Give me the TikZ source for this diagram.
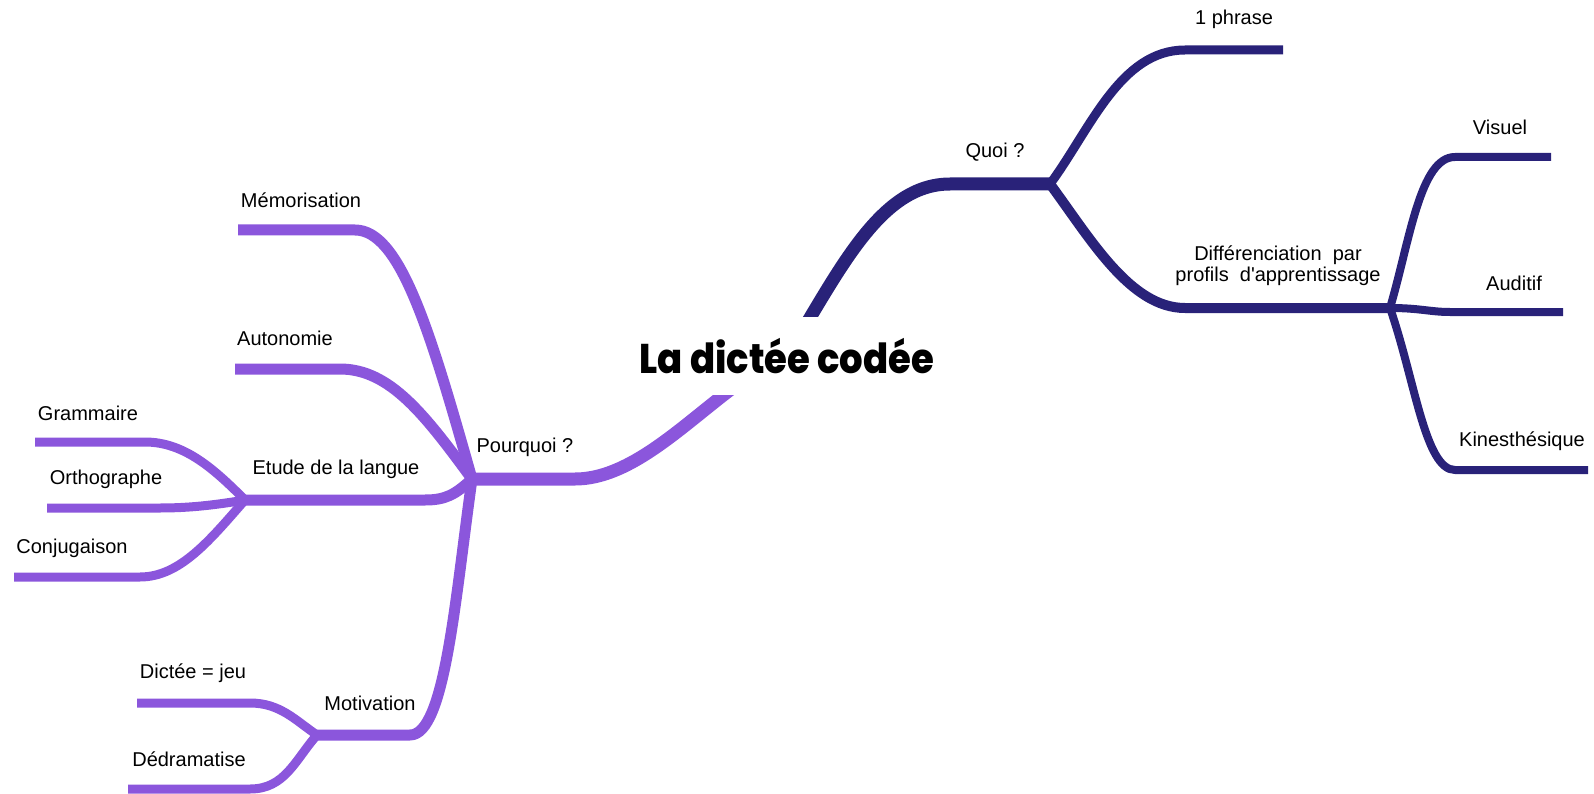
\documentclass[tikz,border=0pt]{standalone}
\usepackage{fontspec}
\setmainfont{Liberation Sans}[Ligatures=TeXOff]
\newfontfamily\titelfont{Poppins}[BoldFont={* ExtraBold}]
\definecolor{violett}{RGB}{139,86,220}
\definecolor{marine}{RGB}{41,34,121}

\begin{document}
\begin{tikzpicture}[x=1pt,y=-1pt,
		ast/.style={line width=#1,line cap=butt,line join=round},
		lbl/.style={inner sep=0pt,font=\fontsize{20}{23}\selectfont}]
	\useasboundingbox (0,0) rectangle (1594,794);
	% Verzweigungen
	\coordinate (W) at (787,356);
	\coordinate (P) at (472,479);
	\coordinate (E) at (245,500);
	\coordinate (M) at (317,735);
	\coordinate (Q) at (1050,184);
	\coordinate (D) at (1390,308);
	% Enden
	\coordinate (memoE) at (238,230);
	\coordinate (autoE) at (235,369);
	\coordinate (gramE) at (35,442);
	\coordinate (orthE) at (47,508);
	\coordinate (conjE) at (14,577);
	\coordinate (jeuE) at (137,703);
	\coordinate (dedrE) at (128,789);
	\coordinate (phrE) at (1283,50);
	\coordinate (visE) at (1551,157);
	\coordinate (audE) at (1563,312);
	\coordinate (kinE) at (1588,470);
	\begin{scope}[draw=violett]
		\draw[ast=13pt] (W) .. controls (720,380) and (650,479) .. (575,479) to (P);
		\draw[ast=11pt] (P) .. controls (430,330) and (400,230) .. (355,230) to (memoE);
		\draw[ast=11pt] (P) .. controls (425,415) and (390,369) .. (340,369) to (autoE);
		\draw[ast=11pt] (P) .. controls (455,495) and (445,500) .. (425,500) to (E);
		\draw[ast=11pt] (P) .. controls (455,600) and (445,735) .. (410,735) to (M);
		% Etude de la langue
		\draw[ast=9pt] (E) .. controls (215,470) and (185,442) .. (145,442) to (gramE);
		\draw[ast=9pt] (E) .. controls (215,505) and (190,508) .. (160,508) to (orthE);
		\draw[ast=9pt] (E) .. controls (210,540) and (180,577) .. (140,577) to (conjE);
		% Motivation
		\draw[ast=9pt] (M) .. controls (295,720) and (280,703) .. (250,703) to (jeuE);
		\draw[ast=9pt] (M) .. controls (295,760) and (285,789) .. (250,789) to (dedrE);
	\end{scope}
	\begin{scope}[draw=marine]
		\draw[ast=13pt] (W) .. controls (840,270) and (880,184) .. (950,184) to (Q);
		\draw[ast=9pt] (Q) .. controls (1090,130) and (1120,50) .. (1185,50) to (phrE);
		\draw[ast=10pt] (Q) .. controls (1090,238) and (1130,308) .. (1185,308) to (D);
		% Profile
		\draw[ast=8pt] (D) .. controls (1410,240) and (1420,157) .. (1455,157) to (visE);
		\draw[ast=8pt] (D) .. controls (1420,308) and (1430,312) .. (1450,312) to (audE);
		\draw[ast=8pt] (D) .. controls (1415,380) and (1425,470) .. (1455,470) to (kinE);
	\end{scope}
	\node[fill=white,inner xsep=12pt,minimum height=78pt,
		font=\titelfont\bfseries\fontsize{37}{40}\selectfont] (titel) at (W)
		{\scalebox{1}[1.12]{La dictée codée}};
	% Beschriftungen
	\node[lbl] (pourquoi) at (525,447) {Pourquoi ?};
	\node[lbl] (memo) at (301,200) {Mémorisation};
	\node[lbl] (auto) at (285,338) {Autonomie};
	\node[lbl] (etude) at (336,469) {Etude de la langue};
	\node[lbl] (gram) at (88,413) {Grammaire};
	\node[lbl] (orth) at (106,479) {Orthographe};
	\node[lbl] (conj) at (72,548) {Conjugaison};
	\node[lbl] (motiv) at (370,703) {Motivation};
	\node[lbl] (jeu) at (193,673) {Dictée = jeu};
	\node[lbl] (dedr) at (189,759) {Dédramatise};
	\node[lbl] (quoi) at (995,152) {Quoi ?};
	\node[lbl] (phr) at (1234,19) {1 phrase};
	\node[lbl,align=center,font=\fontsize{20}{21}\selectfont] (diff) at (1278,266)
		{Différenciation\ \ par\\profils\ \ d'apprentissage};
	\node[lbl] (vis) at (1500,127) {Visuel};
	\node[lbl] (aud) at (1514,283) {Auditif};
	\node[lbl] (kin) at (1522,441) {Kinesthésique};
\end{tikzpicture}
\end{document}
